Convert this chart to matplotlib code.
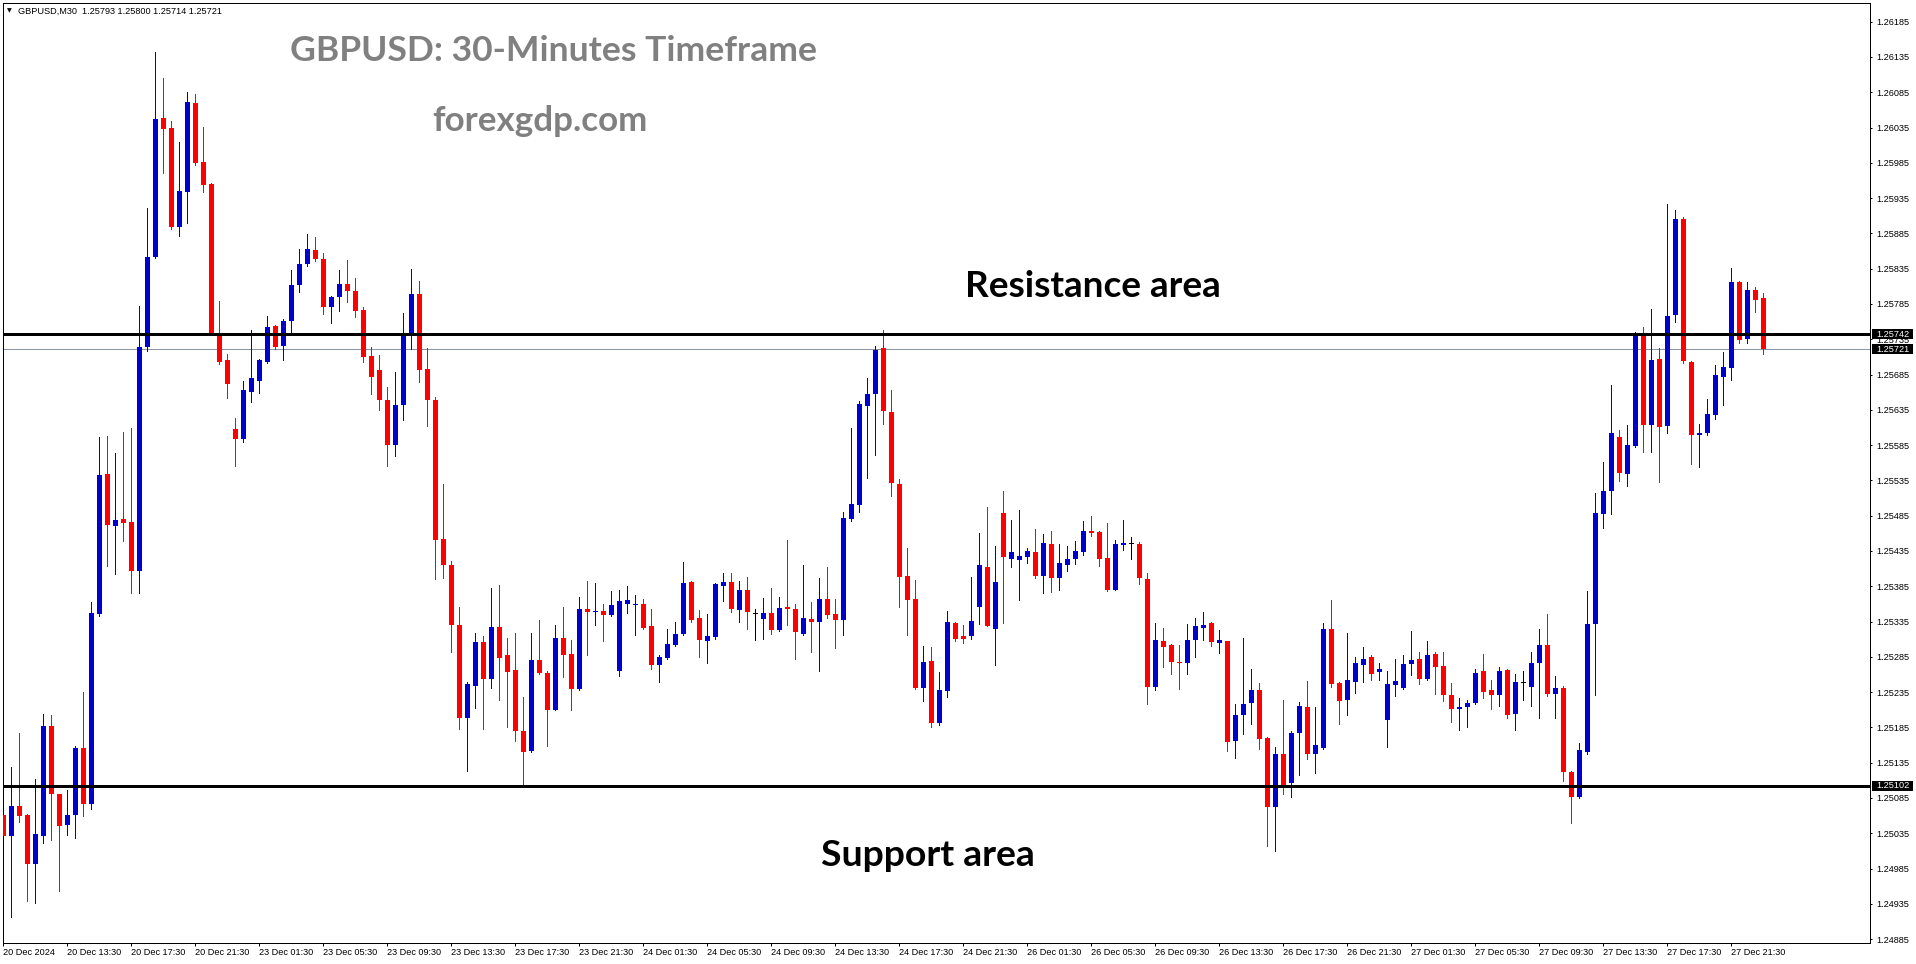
import matplotlib
matplotlib.use("Agg")
import matplotlib.pyplot as plt
from matplotlib.patches import Rectangle

W, H, DPI = 1916, 964, 100

# ---------------- data ----------------
header_text = "GBPUSD,M30  1.25793 1.25800 1.25714 1.25721"
title_text = "GBPUSD: 30-Minutes Timeframe"
site_text = "forexgdp.com"
resistance_text = "Resistance area"
support_text = "Support area"

resistance_level = 1.25742
support_level = 1.25102
bid_level = 1.25721

opens = [
    1.25061, 1.25031, 1.25073, 1.25061, 1.24991, 1.25031, 1.25187, 1.25090, 1.25046, 1.25061,
    1.25156, 1.25076, 1.25346, 1.25544, 1.25470, 1.25480, 1.25476, 1.25407, 1.25724, 1.25852,
    1.26049, 1.26034, 1.25894, 1.25944, 1.26070, 1.25986, 1.25955, 1.25742, 1.25706, 1.25608,
    1.25594, 1.25660, 1.25676, 1.25703, 1.25754, 1.25725, 1.25761, 1.25812, 1.25842, 1.25862,
    1.25849, 1.25781, 1.25795, 1.25813, 1.25804, 1.25777, 1.25711, 1.25692, 1.25649, 1.25585,
    1.25642, 1.25742, 1.25799, 1.25693, 1.25649, 1.25452, 1.25415, 1.25330, 1.25198, 1.25244,
    1.25306, 1.25253, 1.25327, 1.25287, 1.25266, 1.25180, 1.25151, 1.25280, 1.25262, 1.25210,
    1.25312, 1.25289, 1.25239, 1.25353, 1.25348, 1.25350, 1.25344, 1.25265, 1.25360, 1.25358,
    1.25360, 1.25328, 1.25273, 1.25283, 1.25302, 1.25317, 1.25391, 1.25340, 1.25307, 1.25313,
    1.25385, 1.25391, 1.25351, 1.25380, 1.25347, 1.25339, 1.25347, 1.25323, 1.25355, 1.25353,
    1.25317, 1.25339, 1.25334, 1.25367, 1.25346, 1.25337, 1.25480, 1.25500, 1.25640, 1.25657,
    1.25723, 1.25632, 1.25530, 1.25399, 1.25367, 1.25241, 1.25279, 1.25191, 1.25236, 1.25333,
    1.25314, 1.25314, 1.25355, 1.25412, 1.25324, 1.25489, 1.25424, 1.25422, 1.25426, 1.25433,
    1.25399, 1.25445, 1.25397, 1.25415, 1.25424, 1.25433, 1.25463, 1.25462, 1.25425, 1.25380,
    1.25443, 1.25445, 1.25445, 1.25395, 1.25242, 1.25307, 1.25302, 1.25277, 1.25276, 1.25309,
    1.25326, 1.25333, 1.25304, 1.25307, 1.25166, 1.25202, 1.25219, 1.25238, 1.25170, 1.25072,
    1.25147, 1.25106, 1.25177, 1.25214, 1.25147, 1.25156, 1.25324, 1.25248, 1.25224, 1.25249,
    1.25273, 1.25285, 1.25263, 1.25195, 1.25245, 1.25241, 1.25275, 1.25282, 1.25253, 1.25289,
    1.25272, 1.25231, 1.25211, 1.25214, 1.25219, 1.25265, 1.25238, 1.25231, 1.25266, 1.25204,
    1.25249, 1.25242, 1.25276, 1.25302, 1.25232, 1.25241, 1.25122, 1.25086, 1.25150, 1.25331,
    1.25487, 1.25520, 1.25596, 1.25544, 1.25584, 1.25742, 1.25613, 1.25707, 1.25612, 1.25769,
    1.25906, 1.25703, 1.25599, 1.25602, 1.25628, 1.25682, 1.25694, 1.25816, 1.25735, 1.25805,
    1.25793,
]
highs = [
    1.25061, 1.25129, 1.25177, 1.25062, 1.25112, 1.25204, 1.25202, 1.25090, 1.25097, 1.25158,
    1.25235, 1.25363, 1.25596, 1.25598, 1.25574, 1.25604, 1.25609, 1.25782, 1.25921, 1.26142,
    1.26105, 1.26044, 1.26015, 1.26086, 1.26083, 1.26036, 1.25956, 1.25789, 1.25714, 1.25623,
    1.25676, 1.25748, 1.25707, 1.25768, 1.25755, 1.25764, 1.25833, 1.25863, 1.25884, 1.25880,
    1.25857, 1.25796, 1.25833, 1.25847, 1.25822, 1.25781, 1.25724, 1.25713, 1.25667, 1.25689,
    1.25772, 1.25835, 1.25818, 1.25723, 1.25653, 1.25530, 1.25421, 1.25355, 1.25249, 1.25319,
    1.25314, 1.25382, 1.25387, 1.25312, 1.25319, 1.25228, 1.25319, 1.25337, 1.25265, 1.25330,
    1.25355, 1.25309, 1.25370, 1.25392, 1.25390, 1.25360, 1.25378, 1.25380, 1.25385, 1.25372,
    1.25367, 1.25353, 1.25287, 1.25324, 1.25334, 1.25419, 1.25392, 1.25351, 1.25346, 1.25390,
    1.25404, 1.25404, 1.25392, 1.25398, 1.25353, 1.25368, 1.25382, 1.25370, 1.25450, 1.25360,
    1.25415, 1.25363, 1.25397, 1.25412, 1.25367, 1.25490, 1.25609, 1.25648, 1.25680, 1.25725,
    1.25748, 1.25663, 1.25537, 1.25439, 1.25394, 1.25300, 1.25299, 1.25263, 1.25350, 1.25334,
    1.25330, 1.25398, 1.25460, 1.25497, 1.25442, 1.25520, 1.25479, 1.25493, 1.25439, 1.25466,
    1.25459, 1.25463, 1.25445, 1.25442, 1.25449, 1.25477, 1.25485, 1.25463, 1.25475, 1.25450,
    1.25479, 1.25455, 1.25448, 1.25404, 1.25333, 1.25326, 1.25303, 1.25302, 1.25331, 1.25340,
    1.25348, 1.25334, 1.25323, 1.25308, 1.25218, 1.25312, 1.25268, 1.25248, 1.25171, 1.25157,
    1.25224, 1.25180, 1.25221, 1.25251, 1.25214, 1.25333, 1.25365, 1.25249, 1.25319, 1.25285,
    1.25299, 1.25287, 1.25276, 1.25265, 1.25282, 1.25287, 1.25321, 1.25292, 1.25307, 1.25292,
    1.25292, 1.25248, 1.25227, 1.25224, 1.25268, 1.25289, 1.25252, 1.25270, 1.25268, 1.25260,
    1.25265, 1.25292, 1.25324, 1.25346, 1.25258, 1.25244, 1.25123, 1.25163, 1.25378, 1.25517,
    1.25561, 1.25670, 1.25606, 1.25613, 1.25745, 1.25752, 1.25778, 1.25723, 1.25927, 1.25918,
    1.25908, 1.25704, 1.25615, 1.25650, 1.25699, 1.25717, 1.25836, 1.25818, 1.25816, 1.25809,
    1.25800,
]
lows = [
    1.24963, 1.24917, 1.25051, 1.24939, 1.24936, 1.25021, 1.25025, 1.24953, 1.25032, 1.25028,
    1.25059, 1.25069, 1.25343, 1.25414, 1.25402, 1.25449, 1.25375, 1.25375, 1.25718, 1.25850,
    1.25971, 1.25891, 1.25881, 1.25900, 1.25982, 1.25944, 1.25741, 1.25700, 1.25652, 1.25555,
    1.25589, 1.25646, 1.25659, 1.25702, 1.25721, 1.25706, 1.25742, 1.25802, 1.25839, 1.25846,
    1.25771, 1.25758, 1.25775, 1.25788, 1.25767, 1.25703, 1.25657, 1.25635, 1.25555, 1.25570,
    1.25621, 1.25721, 1.25675, 1.25612, 1.25395, 1.25397, 1.25292, 1.25183, 1.25123, 1.25212,
    1.25183, 1.25241, 1.25224, 1.25185, 1.25166, 1.25100, 1.25150, 1.25261, 1.25158, 1.25209,
    1.25256, 1.25210, 1.25238, 1.25287, 1.25330, 1.25307, 1.25343, 1.25258, 1.25347, 1.25316,
    1.25324, 1.25268, 1.25249, 1.25282, 1.25301, 1.25316, 1.25334, 1.25285, 1.25276, 1.25310,
    1.25364, 1.25348, 1.25334, 1.25324, 1.25309, 1.25310, 1.25317, 1.25322, 1.25330, 1.25282,
    1.25316, 1.25292, 1.25265, 1.25340, 1.25297, 1.25316, 1.25477, 1.25490, 1.25538, 1.25571,
    1.25615, 1.25513, 1.25355, 1.25316, 1.25239, 1.25222, 1.25185, 1.25188, 1.25228, 1.25307,
    1.25304, 1.25310, 1.25331, 1.25328, 1.25273, 1.25333, 1.25412, 1.25365, 1.25418, 1.25397,
    1.25375, 1.25377, 1.25380, 1.25407, 1.25416, 1.25429, 1.25456, 1.25414, 1.25378, 1.25379,
    1.25436, 1.25424, 1.25388, 1.25218, 1.25238, 1.25270, 1.25260, 1.25239, 1.25260, 1.25285,
    1.25309, 1.25300, 1.25290, 1.25151, 1.25141, 1.25175, 1.25190, 1.25154, 1.25017, 1.25010,
    1.25090, 1.25086, 1.25117, 1.25140, 1.25120, 1.25155, 1.25242, 1.25190, 1.25202, 1.25234,
    1.25249, 1.25252, 1.25252, 1.25157, 1.25229, 1.25240, 1.25259, 1.25246, 1.25252, 1.25232,
    1.25222, 1.25192, 1.25181, 1.25185, 1.25218, 1.25227, 1.25211, 1.25216, 1.25198, 1.25181,
    1.25224, 1.25215, 1.25198, 1.25229, 1.25198, 1.25109, 1.25049, 1.25085, 1.25148, 1.25231,
    1.25467, 1.25487, 1.25534, 1.25527, 1.25583, 1.25575, 1.25575, 1.25533, 1.25602, 1.25760,
    1.25701, 1.25558, 1.25554, 1.25599, 1.25622, 1.25642, 1.25677, 1.25730, 1.25730, 1.25774,
    1.25714,
]
closes = [
    1.25031, 1.25073, 1.25059, 1.24991, 1.25034, 1.25187, 1.25090, 1.25045, 1.25061, 1.25156,
    1.25076, 1.25347, 1.25543, 1.25472, 1.25479, 1.25475, 1.25407, 1.25724, 1.25852, 1.26047,
    1.26033, 1.25894, 1.25945, 1.26071, 1.25985, 1.25954, 1.25742, 1.25703, 1.25672, 1.25594,
    1.25663, 1.25680, 1.25706, 1.25752, 1.25724, 1.25761, 1.25812, 1.25842, 1.25863, 1.25849,
    1.25781, 1.25795, 1.25813, 1.25804, 1.25775, 1.25710, 1.25682, 1.25649, 1.25585, 1.25642,
    1.25742, 1.25799, 1.25692, 1.25649, 1.25450, 1.25415, 1.25330, 1.25198, 1.25246, 1.25306,
    1.25253, 1.25327, 1.25283, 1.25263, 1.25180, 1.25150, 1.25280, 1.25262, 1.25210, 1.25312,
    1.25287, 1.25239, 1.25353, 1.25348, 1.25350, 1.25344, 1.25358, 1.25364, 1.25365, 1.25360,
    1.25326, 1.25273, 1.25285, 1.25303, 1.25317, 1.25390, 1.25337, 1.25309, 1.25314, 1.25388,
    1.25391, 1.25353, 1.25380, 1.25348, 1.25347, 1.25347, 1.25323, 1.25354, 1.25353, 1.25320,
    1.25340, 1.25334, 1.25367, 1.25344, 1.25337, 1.25482, 1.25502, 1.25643, 1.25657, 1.25720,
    1.25633, 1.25531, 1.25398, 1.25365, 1.25241, 1.25277, 1.25191, 1.25238, 1.25334, 1.25310,
    1.25310, 1.25336, 1.25415, 1.25329, 1.25391, 1.25426, 1.25433, 1.25428, 1.25435, 1.25399,
    1.25446, 1.25397, 1.25418, 1.25424, 1.25435, 1.25463, 1.25460, 1.25424, 1.25380, 1.25445,
    1.25446, 1.25445, 1.25397, 1.25242, 1.25309, 1.25299, 1.25277, 1.25276, 1.25309, 1.25328,
    1.25330, 1.25306, 1.25309, 1.25164, 1.25202, 1.25218, 1.25238, 1.25168, 1.25072, 1.25147,
    1.25102, 1.25177, 1.25215, 1.25147, 1.25160, 1.25324, 1.25246, 1.25222, 1.25252, 1.25276,
    1.25282, 1.25260, 1.25268, 1.25246, 1.25251, 1.25275, 1.25280, 1.25253, 1.25287, 1.25270,
    1.25231, 1.25211, 1.25214, 1.25219, 1.25262, 1.25235, 1.25231, 1.25265, 1.25202, 1.25249,
    1.25249, 1.25276, 1.25302, 1.25232, 1.25241, 1.25122, 1.25086, 1.25153, 1.25331, 1.25489,
    1.25520, 1.25602, 1.25545, 1.25585, 1.25744, 1.25613, 1.25706, 1.25611, 1.25768, 1.25906,
    1.25704, 1.25599, 1.25602, 1.25629, 1.25684, 1.25696, 1.25816, 1.25734, 1.25805, 1.25791,
    1.25721,
]

price_tick_labels = [
    "1.26185", "1.26135", "1.26085", "1.26035", "1.25985", "1.25935", "1.25885",
    "1.25835", "1.25785", "1.25735", "1.25685", "1.25635", "1.25585", "1.25535",
    "1.25485", "1.25435", "1.25385", "1.25335", "1.25285", "1.25235", "1.25185",
    "1.25135", "1.25085", "1.25035", "1.24985", "1.24935", "1.24885",
]
time_tick_labels = [
    "20 Dec 2024", "20 Dec 13:30", "20 Dec 17:30", "20 Dec 21:30",
    "23 Dec 01:30", "23 Dec 05:30", "23 Dec 09:30", "23 Dec 13:30", "23 Dec 17:30", "23 Dec 21:30",
    "24 Dec 01:30", "24 Dec 05:30", "24 Dec 09:30", "24 Dec 13:30", "24 Dec 17:30", "24 Dec 21:30",
    "26 Dec 01:30", "26 Dec 05:30", "26 Dec 09:30", "26 Dec 13:30", "26 Dec 17:30", "26 Dec 21:30",
    "27 Dec 01:30", "27 Dec 05:30", "27 Dec 09:30", "27 Dec 13:30", "27 Dec 17:30", "27 Dec 21:30",
]
time_tick_bars = list(range(0, 8 * len(time_tick_labels), 8))

BULL = "#0000CC"
BEAR = "#FF0000"
DOJI = "#000000"
AXFONT = "Liberation Sans"
AXSIZE = 6.6
PX = 72.0 / DPI  # one pixel in points

# ---------------- figure ----------------
fig = plt.figure(figsize=(W / DPI, H / DPI), dpi=DPI)
fig.patch.set_facecolor("white")
ax = fig.add_axes([2.5 / W, 21 / H, 1867.5 / W, 940.5 / H])
ax.set_facecolor("white")
ax.set_xlim(-0.0625, 233.375)
ax.set_ylim(1.248795, 1.262122)

px_price = (1.262122 - 1.248795) / 940.5
body_w = 5.0 / 8.0

ax.axhline(bid_level, color="#8A96A3", lw=PX, zorder=1)

for i, (o, h, l, c) in enumerate(zip(opens, highs, lows, closes)):
    if c > o:
        col = BULL
    elif c < o:
        col = BEAR
    else:
        col = DOJI
    ax.vlines(i, l, h, color=col, lw=PX, antialiased=False, zorder=2)
    bot = min(o, c)
    hgt = max(abs(c - o), px_price)
    if abs(c - o) < px_price:
        bot = o - px_price / 2
    ax.add_patch(Rectangle((i - body_w / 2, bot), body_w, hgt, facecolor=col,
                           edgecolor="none", lw=0, antialiased=False, zorder=3))

ax.axhline(resistance_level, color="black", lw=3 * PX, zorder=4)
ax.axhline(support_level, color="black", lw=3 * PX, zorder=4)

for sp in ax.spines.values():
    sp.set_linewidth(PX)
    sp.set_color("black")

ax.yaxis.tick_right()
ax.set_yticks([float(s) for s in price_tick_labels])
ax.set_yticklabels(price_tick_labels, fontsize=AXSIZE, family=AXFONT)
ax.tick_params(axis="y", direction="out", length=2.5 * PX, width=PX, pad=2.6, colors="black")
ax.set_xticks(time_tick_bars)
ax.set_xticklabels(time_tick_labels, fontsize=AXSIZE, family=AXFONT)
for lbl in ax.get_xticklabels():
    lbl.set_horizontalalignment("left")
ax.tick_params(axis="x", direction="out", length=3 * PX, width=PX, pad=1.2, colors="black")

# boxed price labels on the right scale
fig.canvas.draw()
for lvl, txt in [(resistance_level, "1.25742"), (bid_level, "1.25721"), (support_level, "1.25102")]:
    ypix = ax.transData.transform((0, lvl))[1]
    fig.add_artist(Rectangle((1872 / W, (ypix - 5) / H), 41 / W, 10 / H,
                             transform=fig.transFigure, facecolor="black",
                             edgecolor="none", zorder=20))
    fig.text(1876 / W, ypix / H, txt, color="white", fontsize=AXSIZE, family=AXFONT,
             ha="left", va="center", zorder=21)

# header
fig.text(7 / W, 1 - 11 / H, "\u25BC", fontsize=4.5, family="DejaVu Sans", ha="left", va="center")
fig.text(18 / W, 1 - 11 / H, header_text, fontsize=AXSIZE, family=AXFONT, ha="left", va="center")

renderer = fig.canvas.get_renderer()


def fitted(text, x0, x1, baseline, color, family, start=20):
    t = fig.text(x0 / W, 1 - baseline / H, text, fontsize=start, color=color,
                 family=family, fontweight="bold", ha="left", va="baseline", zorder=30)
    bb = t.get_window_extent(renderer)
    t.set_fontsize(start * (x1 - x0) / bb.width)
    return t


fitted(title_text, 289.6, 816.4, 61.0, "#808080", "Lato")
fitted(site_text, 432.5, 648.0, 131.0, "#808080", "Lato")
fitted(resistance_text, 965, 1221, 297, "black", "Lato")
fitted(support_text, 821, 1035, 866, "black", "Lato")

fig.savefig("out.png", dpi=DPI, facecolor="white")
